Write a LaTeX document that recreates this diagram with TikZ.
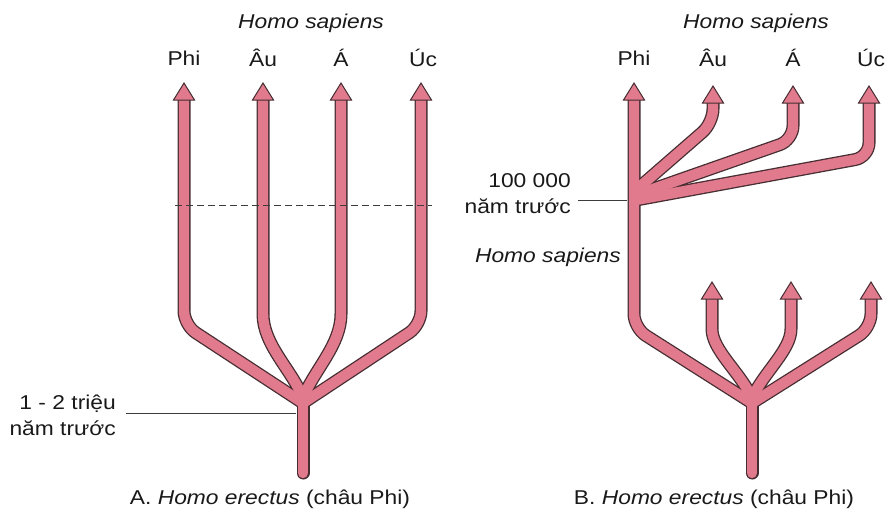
\documentclass[tikz,border=0pt]{standalone}
\usepackage{fontspec}
\setmainfont{Liberation Sans}[FakeStretch=1.14]
\definecolor{pinkc}{RGB}{224,122,140}
\definecolor{edgec}{RGB}{70,45,50}
\definecolor{linec}{RGB}{60,60,60}
\tikzset{
  outl/.style={line width=13pt, draw=edgec, line cap=butt, rounded corners=14pt},
  fil/.style={line width=10.4pt, draw=pinkc, line cap=butt, rounded corners=14pt},
  headtip/.style={fill=pinkc, draw=edgec, line width=1pt, line join=miter},
  lbl/.style={font=\fontsize{20}{26}\selectfont, inner sep=0pt, text=black!90},
  ital/.style={lbl, font=\fontsize{20}{26}\selectfont\itshape},
  lead/.style={draw=linec, line width=1pt},
}
\newcommand{\arrhead}[1]{\draw[headtip] ($(#1)+(-10.5,17)$) -- (#1) -- ($(#1)+(10.5,17)$) -- cycle;}
\usetikzlibrary{calc}
\begin{document}
\begin{tikzpicture}[x=1pt,y=-1pt]
\useasboundingbox (0,0) rectangle (896,515);
% ---------- Panel A ----------
\coordinate (jA) at (303,400);
\coordinate (tA1) at (184,83);
\coordinate (tA2) at (263,83);
\coordinate (tA3) at (341,83);
\coordinate (tA4) at (421,83);
% ---------- Panel B ----------
\coordinate (jB) at (752,400);
\coordinate (tB1) at (634,83);
\coordinate (tB2) at (713,86);
\coordinate (tB3) at (793,86);
\coordinate (tB4) at (869,86);
\coordinate (tB5) at (712,282);
\coordinate (tB6) at (791,282);
\coordinate (tB7) at (871,282);

\foreach \st in {outl,fil}{
  % A
  \draw[\st] ($(tA1)+(0,15)$) -- (184,325) -- (303,403);
  \draw[\st] ($(tA2)+(0,15)$) -- (263,300) .. controls (263,345) and (292,370) .. (303,398);
  \draw[\st] ($(tA3)+(0,15)$) -- (341,300) .. controls (341,345) and (314,370) .. (303,398);
  \draw[\st] ($(tA4)+(0,15)$) -- (421,325) -- (303,403);
  \draw[\st, line cap=round] (jA) -- (303,473);
  % B upper fan
  \draw[\st] ($(tB2)+(0,15)$) -- (713,123) -- (636,190);
  \draw[\st] ($(tB3)+(0,15)$) -- (793,140) -- (636,195);
  \draw[\st] ($(tB4)+(0,15)$) -- (869,157) -- (636,200);
  \draw[\st] ($(tB1)+(0,15)$) -- (634,328) -- (752,403);
  % B lower
  \draw[\st] ($(tB5)+(0,15)$) -- (712,315) .. controls (712,350) and (740,372) .. (752,398);
  \draw[\st] ($(tB6)+(0,15)$) -- (791,315) .. controls (791,350) and (764,372) .. (752,398);
  \draw[\st] ($(tB7)+(0,15)$) -- (871,328) -- (752,403);
  \draw[\st, line cap=round] (jB) -- (752,473);
}
\foreach \t in {tA1,tA2,tA3,tA4,tB1,tB2,tB3,tB4,tB5,tB6,tB7}{\arrhead{\t}}

% dashed line
\coordinate (dL) at (175,205);
\coordinate (dR) at (432,205);
\draw[dashed, draw=linec, line width=1pt, dash pattern=on 7pt off 4pt] (dL) -- (dR);

% labels A
\node[ital] (hsA) at (311,23) {Homo sapiens};
\node[lbl] (lA1) at (184,58) {Phi};
\node[lbl] (lA2) at (263,58) {Âu};
\node[lbl] (lA3) at (341,58) {Á};
\node[lbl] (lA4) at (423,58) {Úc};
\node[lbl, align=right, anchor=east] (tmA) at (116,415) {1 - 2 triệu\\năm trước};
\coordinate (cA) at (296,413);
\draw[lead] (126,413) -- (cA);
\node[lbl] (capA) at (270,499) {A. {\itshape Homo erectus} (châu Phi)};

% labels B
\node[ital] (hsB) at (756,23) {Homo sapiens};
\node[lbl] (lB1) at (634,58) {Phi};
\node[lbl] (lB2) at (713,58) {Âu};
\node[lbl] (lB3) at (793,58) {Á};
\node[lbl] (lB4) at (871,58) {Úc};
\node[lbl, align=right, anchor=east] (tmB) at (571,194) {100 000\\năm trước};
\coordinate (cB) at (627,200);
\draw[lead] (578,200) -- (cB);
\node[ital, anchor=east] (hsB2) at (621,257) {Homo sapiens};
\node[lbl] (capB) at (714,499) {B. {\itshape Homo erectus} (châu Phi)};
\end{tikzpicture}
\end{document}
